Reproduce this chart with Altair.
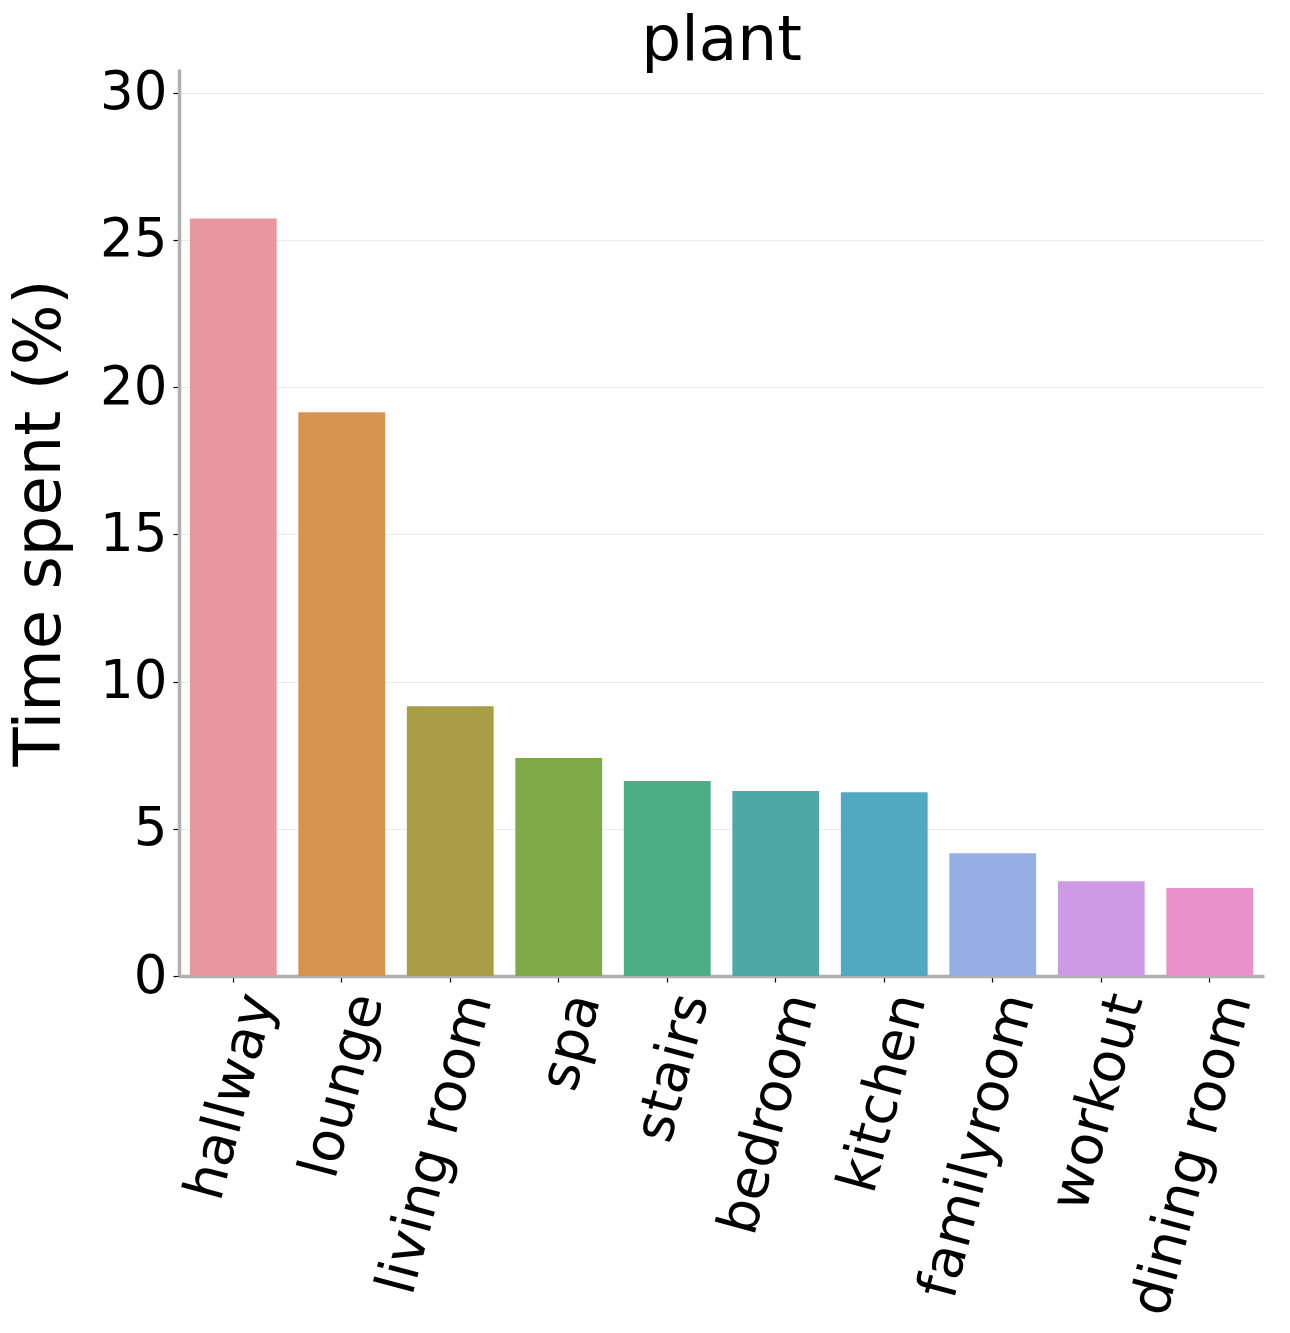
import altair as alt
import pandas as pd

rooms = ["hallway", "lounge", "living room", "spa", "stairs", "bedroom",
         "kitchen", "familyroom", "workout", "dining room"]
values = [25.72, 19.14, 9.16, 7.40, 6.62, 6.28, 6.24, 4.17, 3.22, 2.99]
colors = ["#e8969f", "#d6934f", "#aa9d48", "#80a948", "#4cae84", "#4ea9a6",
          "#51a9c1", "#95aee3", "#ce9ae6", "#e890c9"]

df = pd.DataFrame({"room": rooms, "value": values})

FONT = "DejaVu Sans"

chart = alt.Chart(df).mark_bar().encode(
    x=alt.X("room:N", sort=rooms,
            scale=alt.Scale(paddingInner=0.2, paddingOuter=0.1),
            axis=alt.Axis(title=None, labelAngle=-75, labelAlign="right",
                          labelBaseline="top", labelFontSize=55,
                          labelFont=FONT, labelColor="black",
                          labelPadding=6, labelLimit=600,
                          domainColor="#b0b0b0", domainWidth=3.5,
                          tickColor="black", tickSize=6, tickWidth=1.2,
                          grid=False)),
    y=alt.Y("value:Q", scale=alt.Scale(domain=[0, 30.8], nice=False),
            axis=alt.Axis(title="Time spent (%)", values=[0, 5, 10, 15, 20, 25, 30],
                          labelFontSize=53, labelFont=FONT, labelColor="black",
                          labelPadding=6, titleFontSize=64, titleFont=FONT,
                          titleFontWeight="normal", titleColor="black",
                          titlePadding=27,
                          domainColor="#b0b0b0", domainWidth=3.5,
                          tickColor="black", tickSize=6, tickWidth=1.2,
                          gridColor="#ebebeb", gridWidth=1)),
    color=alt.Color("room:N", sort=rooms,
                    scale=alt.Scale(domain=rooms, range=colors), legend=None),
).properties(
    width=1085, height=907,
    padding={"top": 1, "left": 0, "right": 5, "bottom": 5},
    title=alt.TitleParams("plant", fontSize=63, font=FONT, fontWeight="normal",
                          color="black", anchor="middle", offset=-6),
).configure_view(stroke=None)

chart.save("out.html", embed_options={"renderer": "svg", "actions": False})
